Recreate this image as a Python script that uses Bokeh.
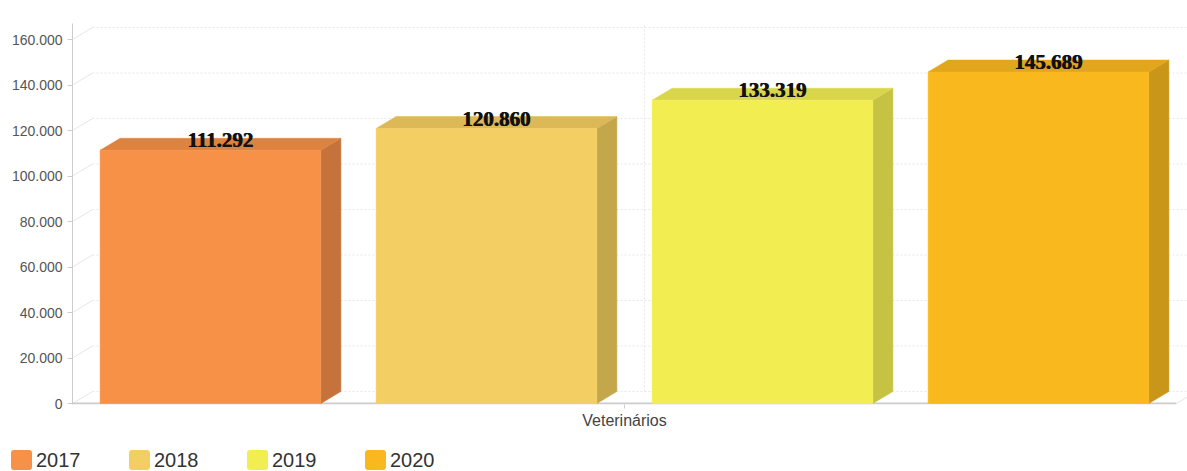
from bokeh.plotting import figure
from bokeh.layouts import column
from bokeh.models import Range1d, FixedTicker, ColumnDataSource, Div
from bokeh.core.properties import value
from bokeh.embed import file_html
from bokeh.resources import INLINE

# ---------------- data ----------------
category = "Veterinários"
years = ["2017", "2018", "2019", "2020"]
values = [111292, 120860, 133319, 145689]
front_colors = ["#F79148", "#F3CF63", "#F2EE52", "#FAB81F"]
top_colors = ["#DE823F", "#DCB857", "#DAD64B", "#E1A61C"]
side_colors = ["#C5733A", "#C5A74B", "#C6C342", "#C9961A"]
y_ticks = [0, 20000, 40000, 60000, 80000, 100000, 120000, 140000, 160000]
y_tick_labels = ["0", "20.000", "40.000", "60.000", "80.000", "100.000", "120.000", "140.000", "160.000"]

# ---------------- geometry / style constants ----------------
W, H = 1187, 471
MAIN_H = 440
LEG_H = H - MAIN_H
LEFT, TOP, BOTTOM = 72, 23, 36           # borders in px
CAT_PX = 1104                            # pixels spanned by the category
U = 160000 / 364                         # data units per vertical pixel
DX = 20 / CAT_PX                         # 3D depth (x) in data units
DY = 12 * U                              # 3D depth (y) in data units
BAR_W = 0.2
x_end = -0.5 + (W - LEFT) / CAT_PX
y_start, y_end = -1 * U, 380 * U

n = len(years)
centers = [(i - (n - 1) / 2) * 0.25 for i in range(n)]

p = figure(width=W, height=MAIN_H, output_backend="svg", toolbar_location=None,
           x_range=Range1d(-0.5, x_end), y_range=Range1d(y_start, y_end),
           min_border_left=LEFT, min_border_right=0, min_border_top=TOP,
           min_border_bottom=BOTTOM)
p.outline_line_color = None
p.xgrid.visible = False
p.ygrid.visible = False
p.background_fill_color = "white"
p.border_fill_color = "white"

# ---- 3D grid: left wall diagonals + back lines ----
diag_xs = [[-0.5, -0.5 + DX] for _ in y_ticks]
diag_ys = [[t, t + DY] for t in y_ticks]
back_xs = [[-0.5 + DX, x_end] for _ in y_ticks]
back_ys = [[t + DY, t + DY] for t in y_ticks]
p.multi_line(diag_xs, diag_ys, line_color="#e6e6e6", line_width=1)
p.multi_line(back_xs, back_ys, line_color="#e8e8e8", line_width=1, line_dash="2 2")
# back vertical grid line at category position
p.segment(x0=[0 + DX], y0=[DY], x1=[0 + DX], y1=[y_end], line_color="#e8e8e8",
          line_width=1, line_dash="2 2")
# floor edge
p.segment(x0=[-0.5], y0=[0], x1=[0.5], y1=[0], line_color="#cccccc", line_width=2)
p.segment(x0=[0.5], y0=[0], x1=[0.5 + DX], y1=[DY], line_color="#e6e6e6", line_width=1)

# ---- bars ----
lefts = [c - BAR_W / 2 for c in centers]
rights = [c + BAR_W / 2 for c in centers]
side_xs = [[r, r + DX, r + DX, r] for r in rights]
side_ys = [[0, DY, v + DY, v] for v in values]
top_xs = [[l, l + DX, r + DX, r] for l, r in zip(lefts, rights)]
top_ys = [[v, v + DY, v + DY, v] for v in values]
p.patches(side_xs, side_ys, fill_color=side_colors, line_color=side_colors, line_width=0.5)
p.patches(top_xs, top_ys, fill_color=top_colors, line_color=top_colors, line_width=0.5)

src = ColumnDataSource(dict(left=lefts, right=rights, top=values,
                            bottom=[0] * n, color=front_colors, year=years))
p.quad(left="left", right="right", bottom="bottom", top="top",
       fill_color="color", line_color="color", line_width=0.5, source=src)

# ---- data labels ----
labels = [f"{v:,}".replace(",", ".") for v in values]
lx = [c + DX / 2 for c in centers]
for xo in (-0.4, 0.4):
    p.text(x=lx, y=values, text=labels,
           text_font=value("Liberation Serif"), text_font_style="bold",
           text_font_size="21px", text_color="#111111", text_align="center",
           text_baseline="alphabetic", y_offset=-10, x_offset=xo)

# ---- axes ----
ya = p.yaxis[0]
ya.ticker = FixedTicker(ticks=y_ticks)
ya.major_label_overrides = {t: l for t, l in zip(y_ticks, y_tick_labels)}
ya.minor_tick_line_color = None
ya.major_tick_in = 0
ya.major_tick_out = 5
ya.major_tick_line_color = "#cccccc"
ya.axis_line_color = "#cccccc"
ya.major_label_standoff = 5
ya.major_label_text_font = "Liberation Sans"
ya.major_label_text_font_size = "14px"
ya.major_label_text_color = "#555555"

xa = p.xaxis[0]
xa.ticker = FixedTicker(ticks=[0])
xa.major_label_overrides = {0: category}
xa.minor_tick_line_color = None
xa.major_tick_in = 0
xa.major_tick_out = 4
xa.major_tick_line_color = "#cccccc"
xa.axis_line_color = None
xa.major_label_standoff = 3
xa.major_label_text_font = "Liberation Sans"
xa.major_label_text_font_size = "16px"
xa.major_label_text_color = "#444444"

# ---- legend (HTML strip below the plot) ----
item_html = "".join(
    f'<div style="display:flex;align-items:center;width:118px;height:20px;">'
    f'<span style="display:inline-block;width:21px;height:20px;background:{c};'
    f'border-radius:3px;margin-right:4px;"></span>'
    f'<span style="line-height:20px;">{y}</span></div>'
    for y, c in zip(years, front_colors))
leg = Div(text=(f'<div style="display:flex;padding-left:11px;padding-top:10px;'
                f'font-family:\'Liberation Sans\',sans-serif;font-size:20px;color:#333333;">'
                f'{item_html}</div>'),
          width=W, height=LEG_H, margin=(0, 0, 0, 0))

open("out.html", "w").write(file_html(column(p, leg, spacing=0), INLINE))
